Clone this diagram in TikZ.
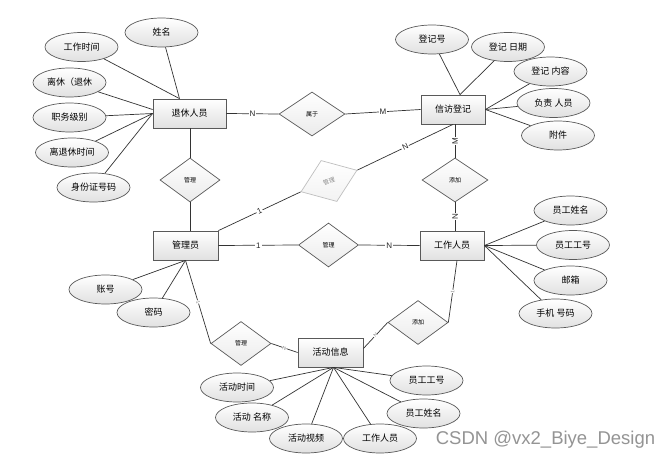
\documentclass[tikz,border=0pt]{standalone}
\usepackage{fontspec}
\setmainfont{Liberation Sans}
\newfontfamily\cjk{Noto Sans CJK SC}
\usetikzlibrary{shapes.geometric,calc}
\begin{document}
\begin{tikzpicture}[x=1pt,y=-1pt,
  ent/.style={draw=black!65, line width=0.8pt, top color=white, bottom color=black!12,
    minimum width=#1, minimum height=29pt, inner sep=0pt, font=\cjk\fontsize{9}{10}\selectfont},
  ent/.default=65pt,
  attr/.style={ellipse, draw=black!65, line width=0.7pt, top color=white, bottom color=black!12,
    minimum width=73pt, minimum height=29pt, inner sep=0pt, font=\cjk\fontsize{9}{10}\selectfont},
  rel/.style={diamond, draw=black!65, line width=0.7pt, top color=white, bottom color=black!8,
    minimum width=#1, minimum height=44pt, inner sep=0pt, font=\cjk\fontsize{6}{6}\selectfont},
  rel/.default=60pt,
  greyrel/.style={rel=60pt, draw=black!25, bottom color=black!5, text=black!45},
  ln/.style={draw=black!80, line width=0.7pt},
  lbl/.style={fill=white, inner sep=1pt, font=\fontsize{8}{9}\selectfont, text=black!85},
  slbl/.style={fill=white, inner sep=0.3pt, font=\fontsize{5}{5}\selectfont, text=black!50},
  wm/.style={font=\fontsize{18.5}{20}\selectfont, text=black!42}
]
\useasboundingbox (0,0) rectangle (669,460);
\fill[white] (0,0) rectangle (669,460);

% entities
\node[ent=73pt] (tx) at (189.5,113.5) {退休人员};
\node[ent=64pt] (xf) at (453,109.5) {信访登记};
\node[ent=65pt] (gly) at (185.5,245.5) {管理员};
\node[ent=64pt] (gz) at (452,245.5) {工作人员};
\node[ent=65pt] (hd) at (330.5,352.5) {活动信息};

% relationships
\node[rel=66pt] (sy) at (312,114) {属于};
\node[rel] (gl1) at (190,180) {管理};
\node[greyrel, rotate=21] (gl2) at (329,181) {管理};
\node[rel=66pt] (tj1) at (455,180) {添加};
\node[rel] (gl3) at (328.5,245) {管理};
\node[rel] (gl4) at (241,343.5) {管理};
\node[rel] (tj2) at (418,322.5) {添加};

% attributes of 退休人员
\node[attr] (a1) at (161.5,32.5) {姓名};
\node[attr] (a2) at (81.5,47) {工作时间};
\node[attr] (a3) at (69.5,82.5) {离休（退休};
\node[attr] (a4) at (69.5,117.5) {职务级别};
\node[attr] (a5) at (72,152.5) {离退休时间};
\node[attr] (a6) at (93.5,187.5) {身份证号码};
% attributes of 信访登记
\node[attr] (b1) at (432,39.5) {登记号};
\node[attr] (b2) at (508,47) {登记 日期};
\node[attr] (b3) at (550.5,71.5) {登记 内容};
\node[attr] (b4) at (553.5,103) {负责 人员};
\node[attr] (b5) at (558,135.5) {附件};
% attributes of 工作人员
\node[attr] (c1) at (570.5,210.5) {员工姓名};
\node[attr] (c2) at (573,245) {员工工号};
\node[attr] (c3) at (570.5,280.5) {邮箱};
\node[attr] (c4) at (555.5,313.5) {手机 号码};
% attributes of 管理员
\node[attr] (d1) at (105.5,289.5) {账号};
\node[attr] (d2) at (153.5,312.5) {密码};
% attributes of 活动信息
\node[attr] (e1) at (237,387.5) {活动时间};
\node[attr] (e2) at (252,417.5) {活动 名称};
\node[attr] (e3) at (306,438.5) {活动视频};
\node[attr] (e4) at (380,438.5) {工作人员};
\node[attr] (e5) at (423.5,413.5) {员工姓名};
\node[attr] (e6) at (426.5,380.5) {员工工号};

% attribute connectors
\draw[ln] ([xshift=-10pt]tx.north) -- (a1);
\draw[ln] ([xshift=-10pt]tx.north) -- (a2);
\draw[ln] ([yshift=4pt]tx.west) -- (a3);
\draw[ln] (tx.west) -- (a4);
\draw[ln] (tx.west) -- (a5);
\draw[ln] (tx.west) -- (a6);
\draw[ln] ([xshift=7pt]xf.north) -- (b1);
\draw[ln] ([xshift=7pt]xf.north) -- (b2);
\draw[ln] (xf.east) -- (b3);
\draw[ln] (xf.east) -- (b4);
\draw[ln] (xf.east) -- (b5);
\draw[ln] (gz.east) -- (c1);
\draw[ln] (gz.east) -- (c2);
\draw[ln] (gz.east) -- (c3);
\draw[ln] (gz.east) -- (c4);
\draw[ln] (gly.south) -- (d1);
\draw[ln] (gly.south) -- (d2);
\foreach \e in {e1,e2,e3,e4,e5,e6} \draw[ln] ([xshift=3pt]hd.south) -- (\e);

% relationship connectors
\draw[ln] (tx.east) -- node[lbl]{N} (sy.west);
\draw[ln] (sy.east) -- node[lbl]{M} (xf.west);
\draw[ln] (gl1.north |- tx.south) -- (gl1.north);
\draw[ln] (gl1.south) -- (gl1.south |- gly.north);
\draw[ln] (gly.north east) -- node[lbl, sloped]{1} (gl2.west);
\draw[ln] (gl2.east) -- node[lbl, sloped]{N} (xf.south);
\draw[ln] (tj1.north |- xf.south) -- node[lbl, rotate=90]{M} (tj1.north);
\draw[ln] (tj1.south) -- node[lbl, rotate=90]{N} (tj1.south |- gz.north);
\draw[ln] (gly.east) -- node[lbl]{1} (gl3.west);
\draw[ln] (gl3.east) -- node[lbl]{N} (gz.west);
\draw[ln] (gly.south) -- node[slbl, sloped]{1} (gl4.west);
\draw[ln] (gl4.east) -- node[slbl, sloped]{N} (hd.west);
\draw[ln] ([yshift=4pt]hd.east) -- node[slbl, sloped]{N} (tj2.west);
\draw[ln] (tj2.east) -- node[slbl, sloped]{1} ([xshift=5pt]gz.south);

% watermark
\node[wm] (wmk) at (545.5,440) {CSDN @vx2\_Biye\_Design};
\end{tikzpicture}
\end{document}
